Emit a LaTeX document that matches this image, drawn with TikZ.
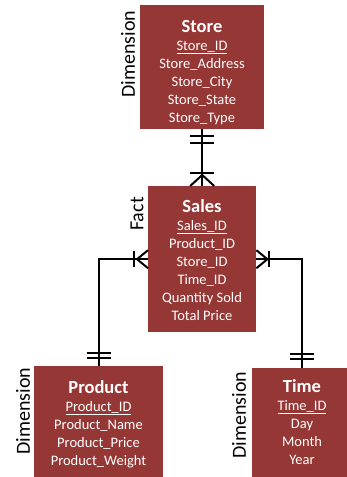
\documentclass[tikz,border=0pt]{standalone}
\usepackage{fontspec}
\setmainfont{Carlito}
\usetikzlibrary{calc}
\definecolor{boxred}{HTML}{953735}
\tikzset{
  tbl/.style={fill=boxred, draw=none, inner sep=0pt, anchor=north west},
  ttl/.style={text=white, anchor=base, inner sep=0pt, font=\fontsize{18.5}{20}\selectfont\bfseries},
  itm/.style={text=white, anchor=base, inner sep=0pt, font=\fontsize{14.5}{17}\selectfont},
  lab/.style={text=black, rotate=90, inner sep=0pt, font=\fontsize{20}{22}\selectfont},
  rel/.style={draw=black, line width=2.3pt},
  tick/.style={draw=black, line width=2pt}
}
\begin{document}
\begin{tikzpicture}[x=1pt, y=-1pt]
\useasboundingbox (0,0) rectangle (347,477);
\begin{scope}
\clip (0,0) rectangle (347,477);
% boxes
\node[tbl, minimum width=124pt, minimum height=124pt] (store) at (140,5) {};
\node[tbl, minimum width=108pt, minimum height=146pt] (sales) at (148,186) {};
\node[tbl, minimum width=129pt, minimum height=112pt] (product) at (34,366) {};
\node[tbl, minimum width=100pt, minimum height=110pt] (time) at (252,368) {};
\end{scope}
% texts
\node[ttl] (storet) at (202,32) {Store};
\foreach \t [count=\i] in {{\underline{Store\_ID}},Store\_Address,Store\_City,Store\_State,Store\_Type}
  \node[itm] (store-\i) at (202,{32+18*\i}) {\t};
\node[ttl] (salest) at (202,212) {Sales};
\foreach \t [count=\i] in {{\underline{Sales\_ID}},Product\_ID,Store\_ID,Time\_ID,Quantity Sold,Total Price}
  \node[itm] (sales-\i) at (202,{212+18*\i}) {\t};
\node[ttl] (productt) at (98.5,393) {Product};
\foreach \t [count=\i] in {{\underline{Product\_ID}},Product\_Name,Product\_Price,Product\_Weight}
  \node[itm] (product-\i) at (98.5,{393+18*\i}) {\t};
\node[ttl] (timet) at (302,392) {Time};
\foreach \t [count=\i] in {{\underline{Time\_ID}},Day,Month,Year}
  \node[itm] (time-\i) at (302,{392+18*\i}) {\t};
% side labels
\node[lab] (storelab) at (128,54) {Dimension};
\node[lab] (saleslab) at (137,214) {Fact};
\node[lab] (productlab) at (23,411) {Dimension};
\node[lab] (timelab) at (239,415) {Dimension};
% connectors
\draw[rel] (store.south) -- (sales.north);
\draw[rel] (sales.west) -| (product.north);
\draw[rel] (sales.east) -| (time.north);
% store end: one and only one
\draw[tick] ($(store.south)+(-12,7)$) -- ++(24,0);
\draw[tick] ($(store.south)+(-12,14)$) -- ++(24,0);
% sales top: one or many
\draw[tick] ($(sales.north)+(-12,-13)$) -- ++(24,0);
\draw[tick] ($(sales.north)+(-12,0)$) -- ($(sales.north)+(0,-11)$) -- ($(sales.north)+(12,0)$);
% sales left
\draw[tick] ($(sales.west)+(-14,-8)$) -- ++(0,16);
\draw[tick] ($(sales.west)+(0,-9)$) -- ($(sales.west)+(-11,0)$) -- ($(sales.west)+(0,9)$);
% sales right
\draw[tick] ($(sales.east)+(13,-8)$) -- ++(0,16);
\draw[tick] ($(sales.east)+(0,-9)$) -- ($(sales.east)+(11,0)$) -- ($(sales.east)+(0,9)$);
% product end
\draw[tick] ($(product.north)+(-12,-13)$) -- ++(24,0);
\draw[tick] ($(product.north)+(-12,-8)$) -- ++(24,0);
% time end
\draw[tick] ($(time.north)+(-12,-14)$) -- ++(24,0);
\draw[tick] ($(time.north)+(-12,-9)$) -- ++(24,0);
\end{tikzpicture}
\end{document}
